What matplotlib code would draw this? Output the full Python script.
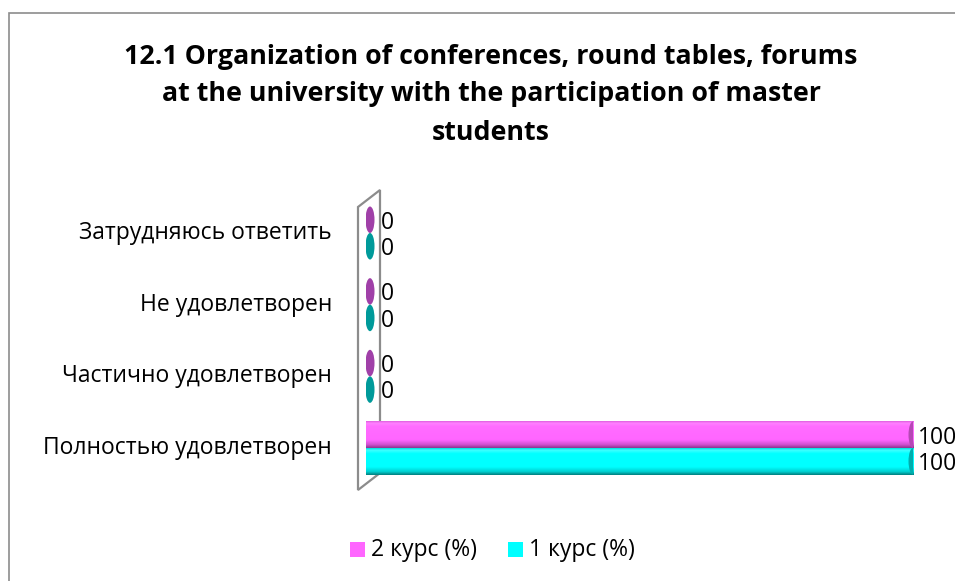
import numpy as np
import matplotlib.pyplot as plt
from matplotlib.patches import Ellipse, Rectangle, Polygon
from matplotlib.colors import LinearSegmentedColormap

plt.rcParams['font.family'] = ['Open Sans', 'DejaVu Sans']

categories = ['Полностью удовлетворен', 'Частично удовлетворен', 'Не удовлетворен', 'Затрудняюсь ответить']
kurs2 = [100, 0, 0, 0]
kurs1 = [100, 0, 0, 0]
series_names = ['2 курс (%)', '1 курс (%)']

title_lines = ['12.1 Organization of conferences, round tables, forums',
               'at the university with the participation of master',
               'students']

fig = plt.figure(figsize=(9.55, 5.81), dpi=100)
W, H = 955, 581

# outer chart frame (cut at right/bottom like the reference)
fig.patches.append(Rectangle((9 / W, -0.05), 1.1, 1 - 13 / H + 0.05, transform=fig.transFigure,
                             fill=False, edgecolor='#8c8c8c', lw=1.2))

for ty, line in zip([57, 94, 133], title_lines):
    fig.text(491 / W, 1 - ty / H, line, ha='center', va='center', fontsize=19.3,
             fontweight='bold')

ax = fig.add_axes([366 / W, 1 - 490 / H, 547 / W, 300 / H])
ax.set_xlim(0, 100)
ax.set_ylim(-0.586, 3.6)
ax.axis('off')

# side wall (3d look)
px_x = 100 / 547
px_y = 71.7
wall = Polygon([(-8 * px_x, -0.586), (14 * px_x, -0.586 + 17 / px_y),
                (14 * px_x, 3.6), (-8 * px_x, 3.6 - 17 / px_y)],
               closed=True, facecolor='white', edgecolor='#8c8c8c', lw=1.6,
               clip_on=False, zorder=1)
ax.add_patch(wall)

h = 0.37
ew = 9 * px_x
styles = [
    (kurs2, +h / 2, [(0, '#8e3590'), (0.12, '#d050d0'), (0.3, '#ff66ff'), (0.8, '#ff6cff'),
                     (0.93, '#ff80ff'), (1, '#e060e0')], '#b548b5', '#a040a8'),
    (kurs1, -h / 2, [(0, '#008080'), (0.12, '#00d0d0'), (0.3, '#00ffff'), (0.8, '#00ffff'),
                     (0.93, '#40ffff'), (1, '#00e0e0')], '#00adad', '#009a9a'),
]
ypos = np.arange(len(categories))
for vals, off, grad, capc, zc in styles:
    cmap = LinearSegmentedColormap.from_list('g', grad)
    for y, v in zip(ypos, vals):
        yc = y + off
        if v > 0:
            bars = ax.barh([yc], [v], height=h, color=grad[2][1], lw=0, zorder=3)
            img = ax.imshow(np.linspace(0, 1, 80).reshape(-1, 1), cmap=cmap, aspect='auto',
                            extent=(0, v, yc - h / 2, yc + h / 2), origin='lower', zorder=3)
            img.set_clip_path(bars[0])
            ax.add_patch(Ellipse((0, yc), ew, h, facecolor=grad[2][1], lw=0, zorder=2.9))
            ax.add_patch(Ellipse((v, yc), ew, h, facecolor=capc, lw=0, zorder=4))
            ax.text(v + 5 * px_x, yc - 0.04, str(v), va='center', ha='left', fontsize=16.5,
                    clip_on=False)
        else:
            ax.add_patch(Ellipse((v + 4 * px_x, yc), ew, h, facecolor=zc, lw=0, zorder=4))
            ax.text(v + 15 * px_x, yc - 0.04, str(v), va='center', ha='left', fontsize=16.5)
ax.set_ylim(-0.586, 3.6)

for y, c in zip(ypos, categories):
    ax.text(-34 * px_x, y, c, ha='right', va='center', fontsize=16.5)

# legend
for i, (name, col) in enumerate(zip(series_names, ['#ff66ff', '#00ffff'])):
    lx = [350, 508][i]
    fig.patches.append(Rectangle((lx / W, 1 - 557 / H), 15 / W, 15 / H, transform=fig.transFigure,
                                 facecolor=col, lw=0))
    fig.text((lx + 21) / W, 1 - 550 / H, name, ha='left', va='center', fontsize=16.5)

fig.savefig('out.png', dpi=100)
